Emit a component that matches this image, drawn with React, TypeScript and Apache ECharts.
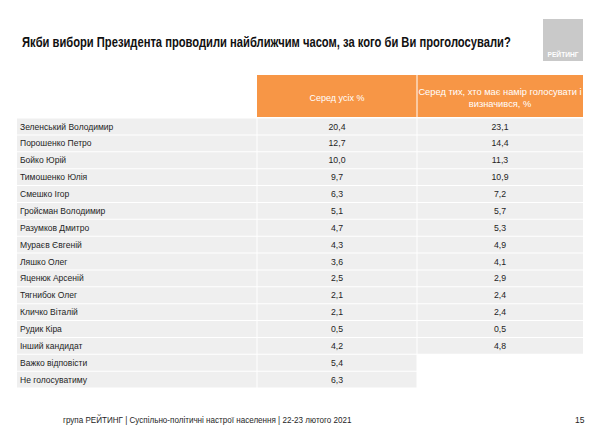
import React, { useEffect, useRef } from "react";
import * as echarts from "echarts";

const titleText = "Якби вибори Президента проводили найближчим часом, за кого би Ви проголосували?";
const columnHeaders = ["Серед усіх %", "Серед тих, хто має намір голосувати і\nвизначився, %"];
const candidates = [
  "Зеленський Володимир",
  "Порошенко Петро",
  "Бойко Юрій",
  "Тимошенко Юлія",
  "Смешко Ігор",
  "Гройсман Володимир",
  "Разумков Дмитро",
  "Мураєв Євгеній",
  "Ляшко Олег",
  "Яценюк Арсеній",
  "Тягнибок Олег",
  "Кличко Віталій",
  "Рудик Кіра",
  "Інший кандидат",
  "Важко відповісти",
  "Не голосуватиму",
];
const allVoters = [20.4, 12.7, 10.0, 9.7, 6.3, 5.1, 4.7, 4.3, 3.6, 2.5, 2.1, 2.1, 0.5, 4.2, 5.4, 6.3];
const decidedVoters: (number | null)[] = [23.1, 14.4, 11.3, 10.9, 7.2, 5.7, 5.3, 4.9, 4.1, 2.9, 2.4, 2.4, 0.5, 4.8, null, null];
const footerText = "група РЕЙТИНГ | Суспільно-політичні настрої населення | 22-23 лютого 2021";
const pageNumber = "15";
const logoText = "РЕЙТИНГ";

const FONT = "Liberation Sans, Arial, sans-serif";
const ORANGE = "#F79646";
const CELL = "#EFEFEF";
const TEXT = "#1e1e1e";

// column widths in px (name, all voters, decided)
const COLS = [240, 160, 166];

const fmt = (v: number | null) => (v == null ? "" : v.toFixed(1).replace(".", ","));

export default function App() {
  const ref = useRef<HTMLDivElement>(null);
  useEffect(() => {
    if (!ref.current) return;
    const chart = echarts.init(ref.current, undefined, { renderer: "svg" });
    const gridLeft = 17;
    const gridTop = 118;
    const col1X = gridLeft + COLS[0];
    const col2X = col1X + COLS[1];
    const col3End = col2X + COLS[2];
    chart.setOption({
      animation: false,
      backgroundColor: "#ffffff",
      grid: { left: gridLeft, right: 600 - col3End, top: gridTop, bottom: 40 },
      xAxis: { type: "value", min: 0, max: 1, show: false },
      yAxis: { type: "category", data: candidates, inverse: true, show: false },
      graphic: [
        {
          type: "text",
          x: 22,
          y: 43,
          scaleX: 0.8,
          style: { text: titleText, font: `bold 14px ${FONT}`, fill: "#111", verticalAlign: "middle" },
        },
        {
          type: "rect",
          shape: { x: 543, y: 19, width: 40, height: 42 },
          style: { fill: "#C9C9C9" },
        },
        {
          type: "text",
          x: 563,
          y: 54,
          scaleX: 0.95,
          style: {
            text: logoText,
            font: `bold 7px ${FONT}`,
            fill: "#ffffff",
            align: "center",
            verticalAlign: "middle",
          },
        },
        {
          type: "rect",
          shape: { x: col1X, y: 75, width: COLS[1] - 0.5, height: 42 },
          style: { fill: ORANGE },
        },
        {
          type: "rect",
          shape: { x: col2X + 0.5, y: 75, width: COLS[2] - 0.5, height: 42 },
          style: { fill: ORANGE },
        },
        {
          type: "text",
          x: col1X + COLS[1] / 2,
          y: 98,
          style: {
            text: columnHeaders[0],
            font: `9px ${FONT}`,
            fill: "#ffffff",
            align: "center",
            verticalAlign: "middle",
          },
        },
        {
          type: "text",
          x: col2X + COLS[2] / 2,
          y: 97.5,
          style: {
            text: columnHeaders[1],
            font: `9.3px ${FONT}`,
            lineHeight: 12,
            fill: "#ffffff",
            align: "center",
            verticalAlign: "middle",
          },
        },
        {
          type: "text",
          x: 63,
          y: 420,
          scaleX: 0.95,
          style: { text: footerText, font: `8.5px ${FONT}`, fill: TEXT, verticalAlign: "middle" },
        },
        {
          type: "text",
          x: 575,
          y: 420,
          style: { text: pageNumber, font: `8.5px ${FONT}`, fill: TEXT, verticalAlign: "middle" },
        },
      ],
      series: [
        {
          type: "custom",
          coordinateSystem: "cartesian2d",
          encode: { x: 1, y: 0 },
          data: candidates.map((_, i) => [i, allVoters[i], decidedVoters[i] == null ? "-" : decidedVoters[i]]),
          renderItem: (params: any, api: any) => {
            const idx = api.value(0);
            const rowH = api.size([0, 1])[1];
            const cy = api.coord([0, idx])[1];
            const top = cy - rowH / 2;
            const cs = params.coordSys;
            const x0 = cs.x;
            const x1 = x0 + COLS[0];
            const x2 = x1 + COLS[1];
            const v1 = allVoters[idx];
            const v2 = decidedVoters[idx];
            const children: any[] = [
              { type: "rect", shape: { x: x0, y: top + 0.5, width: COLS[0] - 0.5, height: rowH - 1 }, style: { fill: CELL } },
              { type: "rect", shape: { x: x1 + 0.5, y: top + 0.5, width: COLS[1] - 1, height: rowH - 1 }, style: { fill: CELL } },
              {
                type: "text",
                x: x0 + 3,
                y: cy,
                scaleX: 0.9,
                style: { text: candidates[idx], font: `9.5px ${FONT}`, fill: TEXT, verticalAlign: "middle" },
              },
              {
                type: "text",
                x: x1 + COLS[1] / 2,
                y: cy,
                scaleX: 0.92,
                style: { text: fmt(v1), font: `9.5px ${FONT}`, fill: TEXT, align: "center", verticalAlign: "middle" },
              },
            ];
            if (v2 != null) {
              children.push(
                { type: "rect", shape: { x: x2 + 0.5, y: top + 0.5, width: COLS[2] - 0.5, height: rowH - 1 }, style: { fill: CELL } },
                {
                  type: "text",
                  x: x2 + COLS[2] / 2,
                  y: cy,
                  scaleX: 0.92,
                  style: { text: fmt(v2), font: `9.5px ${FONT}`, fill: TEXT, align: "center", verticalAlign: "middle" },
                }
              );
            }
            return { type: "group", children };
          },
        },
      ],
    });
    return () => chart.dispose();
  }, []);
  return <div ref={ref} style={{ position: "fixed", left: 0, top: 0, width: 600, height: 428 }} />;
}
